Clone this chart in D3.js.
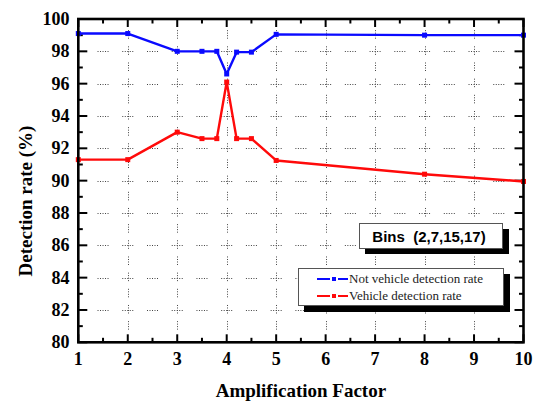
<!DOCTYPE html>
<html><head><meta charset="utf-8">
<script src="https://cdn.jsdelivr.net/npm/d3@7"></script>
<style>body{margin:0;background:#fff}svg{display:block}</style>
</head><body>
<svg id="c" width="539" height="403" font-family="Times New Roman"></svg>
<script>
const factors = [1, 2, 3, 3.5, 3.8, 4, 4.2, 4.5, 5, 8, 10];
const notVehicleRate = [99.1, 99.1, 98.0, 98.0, 98.0, 96.6, 97.95, 97.95, 99.05, 99.0, 99.0];
const vehicleRate = [91.3, 91.3, 93.0, 92.6, 92.6, 96.1, 92.6, 92.6, 91.25, 90.4, 89.95];
const xTicks = [1,2,3,4,5,6,7,8,9,10];
const yTicks = [80,82,84,86,88,90,92,94,96,98,100];
const seriesNames = ["Not vehicle detection rate", "Vehicle detection rate"];
const seriesColors = ["#0a0aff", "#ff0a0a"];
const boxLabel = "Bins\u00a0\u00a0(2,7,15,17)";

const SERIF = "Times New Roman";
const SANS = "Arial";
const svg = d3.select("#c");
const L = 78.3, R = 523.5, T = 19, B = 342.3;
const x = d3.scaleLinear().domain([1,10]).range([L,R]);
const y = d3.scaleLinear().domain([80,100]).range([B,T]);

function txt(sel, fam, size, weight) {
  return sel.attr("font-family", fam).attr("font-size", size).attr("font-weight", weight || "normal");
}

// grid: dotted short segments
const g = svg.append("g").attr("stroke","#444").attr("stroke-width",1).attr("stroke-dasharray","1,1.5");
const hy = d3.range(82, 99, 2);
const hx = d3.range(1.5, 9.75, 0.5);
hy.forEach(v => hx.forEach(u => {
  g.append("line").attr("x1", x(u)-5.5).attr("x2", x(u)+5.5).attr("y1", Math.round(y(v))+0.5).attr("y2", Math.round(y(v))+0.5);
}));
const vx = d3.range(2, 10, 1);
const vy = d3.range(81, 100, 1);
vx.forEach(u => vy.forEach(v => {
  g.append("line").attr("x1", Math.round(x(u))+0.5).attr("x2", Math.round(x(u))+0.5).attr("y1", y(v)-5).attr("y2", y(v)+5);
}));

// ticks (inward) on all four sides
const tk = svg.append("g").attr("stroke","#000").attr("stroke-width",2);
d3.range(1, 10.01, 0.5).forEach(u => {
  const len = Number.isInteger(u) ? 8 : 4.5;
  tk.append("line").attr("x1",x(u)).attr("x2",x(u)).attr("y1",B).attr("y2",B-len);
  tk.append("line").attr("x1",x(u)).attr("x2",x(u)).attr("y1",T).attr("y2",T+len);
});
d3.range(80, 100.01, 1).forEach(v => {
  const len = v % 2 === 0 ? 9 : 4.5;
  tk.append("line").attr("x1",L).attr("x2",L+len).attr("y1",y(v)).attr("y2",y(v));
  tk.append("line").attr("x1",R).attr("x2",R-len).attr("y1",y(v)).attr("y2",y(v));
});

// series
const data = [notVehicleRate, vehicleRate];
const line = d3.line().x((d,i)=>x(factors[i])).y(d=>y(d));
data.forEach((s, k) => {
  svg.append("path").datum(s).attr("d", line).attr("fill","none")
    .attr("stroke", seriesColors[k]).attr("stroke-width", 2.4).attr("stroke-linejoin","round");
  svg.append("g").selectAll("rect").data(s).join("rect")
    .attr("x",(d,i)=>x(factors[i])-2.5).attr("y",d=>y(d)-2.5)
    .attr("width",5).attr("height",5).attr("fill",seriesColors[k]);
});

// frame
svg.append("rect").attr("x",L).attr("y",T).attr("width",R-L).attr("height",B-T)
  .attr("fill","none").attr("stroke","#000").attr("stroke-width",2.6);

// tick labels
txt(svg.append("g").selectAll("text").data(xTicks).join("text")
  .attr("x",d=>x(d)).attr("y",365).attr("text-anchor","middle"), SERIF, 18, "bold").text(d=>d);
txt(svg.append("g").selectAll("text").data(yTicks).join("text")
  .attr("x",69.5).attr("y",d=>y(d)).attr("dy","0.34em").attr("text-anchor","end"), SERIF, 18, "bold").text(d=>d);

// axis titles
txt(svg.append("text").attr("x",(L+R)/2).attr("y",397).attr("text-anchor","middle"), SERIF, 19, "bold")
  .text("Amplification Factor");
txt(svg.append("text").attr("transform","translate(32,201) rotate(-90)").attr("text-anchor","middle"), SERIF, 19, "bold")
  .text("Detection rate (%)");

// Bins box
svg.append("rect").attr("x",365).attr("y",229).attr("width",144).attr("height",25).attr("fill","#000");
svg.append("rect").attr("x",359.5).attr("y",223.5).attr("width",143).attr("height",25).attr("fill","#fff").attr("stroke","#555").attr("stroke-width",1);
txt(svg.append("text").attr("x",429).attr("y",242).attr("text-anchor","middle"), SANS, 15, "bold").text(boxLabel);

// legend
svg.append("rect").attr("x",304).attr("y",274).attr("width",206).attr("height",38).attr("fill","#000");
svg.append("rect").attr("x",298.5).attr("y",268.5).attr("width",205).attr("height",37).attr("fill","#fff").attr("stroke","#555").attr("stroke-width",1);
seriesNames.forEach((n,k) => {
  const cy = 279 + k*17;
  const lg = svg.append("g").attr("stroke",seriesColors[k]).attr("stroke-width",2);
  lg.append("line").attr("x1",317).attr("x2",330).attr("y1",cy).attr("y2",cy);
  lg.append("line").attr("x1",338).attr("x2",348).attr("y1",cy).attr("y2",cy);
  svg.append("rect").attr("x",332).attr("y",cy-2).attr("width",4).attr("height",4).attr("fill",seriesColors[k]);
  txt(svg.append("text").attr("x",349).attr("y",cy+4), SERIF, 13, "normal").attr("fill","#222").text(n);
});
</script>
</body></html>
